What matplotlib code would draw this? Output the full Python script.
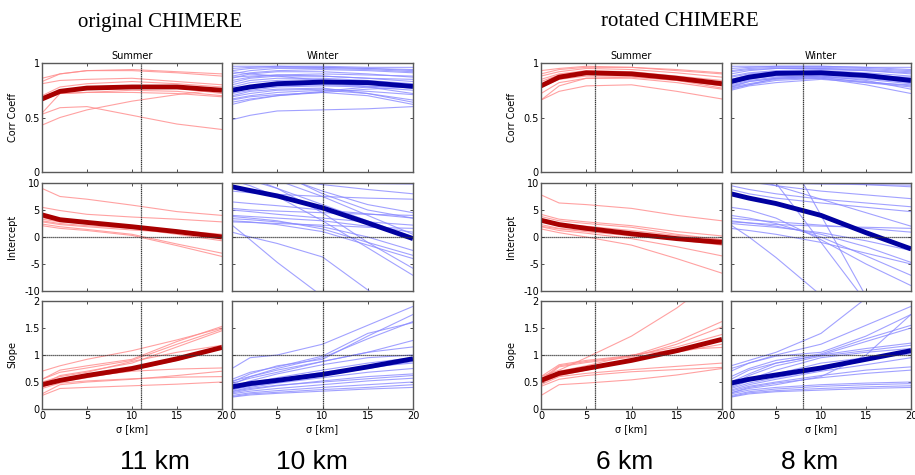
import matplotlib
matplotlib.use("Agg")
import matplotlib.pyplot as plt

# sigma [km] sample points
sigma = [0, 2, 5, 10, 15, 20]

# ---------------- original CHIMERE ----------------
orig_sum_corr_mean = [0.67, 0.74, 0.77, 0.78, 0.78, 0.75]
orig_sum_corr = [
    [0.86, 0.90, 0.93, 0.94, 0.92, 0.90],
    [0.83, 0.90, 0.93, 0.93, 0.91, 0.88],
    [0.81, 0.84, 0.85, 0.86, 0.83, 0.80],
    [0.70, 0.78, 0.81, 0.83, 0.81, 0.78],
    [0.69, 0.74, 0.78, 0.79, 0.77, 0.72],
    [0.66, 0.72, 0.73, 0.73, 0.72, 0.69],
    [0.53, 0.59, 0.60, 0.52, 0.44, 0.39],
    [0.43, 0.50, 0.57, 0.65, 0.71, 0.76],
    [0.54, 0.72, 0.73, 0.75, 0.74, 0.70],
]
orig_sum_icpt_mean = [4.1, 3.2, 2.7, 1.9, 1.0, 0.0]
orig_sum_icpt = [
    [9.0, 7.5, 7.0, 5.9, 4.7, 4.0],
    [5.5, 4.9, 4.2, 3.7, 3.3, 2.8],
    [3.3, 2.8, 2.5, 2.0, 1.2, 0.5],
    [2.8, 2.3, 1.9, 1.3, 0.8, 0.3],
    [2.4, 1.9, 1.4, 0.5, -1.3, -3.0],
    [2.1, 1.6, 1.2, 0.3, -1.6, -3.6],
    [3.6, 3.0, 2.6, 2.1, 1.1, 0.3],
    [3.0, 2.5, 2.1, 1.6, 0.5, -0.7],
]
orig_sum_slope_mean = [0.45, 0.53, 0.62, 0.75, 0.93, 1.14]
orig_sum_slope = [
    [0.70, 0.80, 0.92, 1.08, 1.28, 1.50],
    [0.55, 0.72, 0.80, 0.92, 1.25, 1.53],
    [0.55, 0.68, 0.76, 0.90, 1.20, 1.48],
    [0.45, 0.62, 0.70, 0.85, 1.15, 1.45],
    [0.50, 0.60, 0.68, 0.88, 1.05, 1.18],
    [0.40, 0.55, 0.60, 0.70, 0.74, 0.76],
    [0.38, 0.48, 0.52, 0.56, 0.59, 0.60],
    [0.28, 0.45, 0.50, 0.55, 0.62, 0.70],
    [0.25, 0.38, 0.40, 0.43, 0.46, 0.50],
    [0.42, 0.50, 0.58, 0.72, 0.90, 1.12],
]
orig_win_corr_mean = [0.75, 0.78, 0.81, 0.825, 0.82, 0.785]
orig_win_corr = [
    [0.97, 0.97, 0.97, 0.96, 0.95, 0.94],
    [0.95, 0.96, 0.97, 0.97, 0.96, 0.96],
    [0.93, 0.95, 0.96, 0.96, 0.95, 0.93],
    [0.90, 0.93, 0.95, 0.95, 0.94, 0.92],
    [0.88, 0.91, 0.93, 0.94, 0.93, 0.91],
    [0.86, 0.90, 0.92, 0.92, 0.90, 0.87],
    [0.84, 0.87, 0.89, 0.90, 0.89, 0.88],
    [0.82, 0.86, 0.88, 0.88, 0.86, 0.83],
    [0.80, 0.84, 0.86, 0.86, 0.84, 0.81],
    [0.78, 0.82, 0.84, 0.85, 0.83, 0.79],
    [0.76, 0.79, 0.80, 0.82, 0.82, 0.80],
    [0.74, 0.77, 0.79, 0.80, 0.79, 0.77],
    [0.72, 0.75, 0.78, 0.79, 0.78, 0.75],
    [0.70, 0.74, 0.76, 0.77, 0.72, 0.64],
    [0.69, 0.72, 0.75, 0.76, 0.74, 0.71],
    [0.67, 0.70, 0.73, 0.75, 0.72, 0.66],
    [0.66, 0.69, 0.71, 0.73, 0.70, 0.62],
    [0.64, 0.67, 0.70, 0.73, 0.76, 0.78],
    [0.62, 0.66, 0.70, 0.74, 0.78, 0.80],
    [0.48, 0.52, 0.56, 0.57, 0.58, 0.60],
    [0.87, 0.88, 0.89, 0.88, 0.86, 0.85],
    [0.92, 0.90, 0.88, 0.84, 0.78, 0.72],
]
orig_win_icpt_mean = [9.3, 8.6, 7.6, 5.4, 2.6, -0.3]
orig_win_icpt = [
    [18, 15, 12, 8, 5, 3.5],
    [15, 13.5, 11.5, 8.5, 6, 4.5],
    [12, 11.5, 10.8, 9.7, 8.8, 8.0],
    [11, 10.5, 10.2, 10, 9.9, 9.8],
    [13, 12, 10.5, 7.5, 4, 0.5],
    [11.5, 10.5, 9, 6, 3, 0],
    [8.5, 8.2, 7.9, 7.5, 7.2, 7.0],
    [5.3, 5.0, 4.8, 4.5, 4.2, 4.0],
    [5.0, 4.7, 4.2, 3.5, 2.8, 2.2],
    [4.0, 3.8, 3.5, 3.0, 2.0, 0.9],
    [3.4, 3.2, 2.8, 1.9, 0.0, -2.5],
    [2.8, 2.7, 2.5, 2.2, 1.8, 1.6],
    [2.2, -0.5, -4.7, -11, -18, -25],
    [0.9, 0.0, -1.2, -3.7, -9.8, -16],
    [12, 11, 9, 4.5, -1, -5.8],
    [10.5, 9.5, 7.5, 3, -2, -7.1],
    [3.0, 2.8, 2.3, 1.0, -1.5, -4.0],
    [3.8, 3.5, 3.0, 1.5, -1.0, -3.4],
    [6.5, 6.2, 5.8, 5.0, 4.3, 3.5],
]
orig_win_slope_mean = [0.41, 0.47, 0.53, 0.64, 0.78, 0.93]
orig_win_slope = [
    [0.75, 0.95, 1.00, 1.20, 1.55, 1.90],
    [0.50, 0.65, 0.80, 0.92, 1.35, 1.75],
    [0.55, 0.68, 0.78, 0.98, 1.40, 1.60],
    [0.45, 0.60, 0.75, 0.95, 1.30, 1.62],
    [0.52, 0.60, 0.72, 0.88, 1.05, 1.27],
    [0.48, 0.57, 0.68, 0.88, 1.05, 1.15],
    [0.40, 0.52, 0.65, 0.82, 0.95, 1.00],
    [0.38, 0.48, 0.58, 0.72, 0.85, 0.95],
    [0.35, 0.45, 0.55, 0.68, 0.78, 0.85],
    [0.33, 0.40, 0.48, 0.58, 0.68, 0.75],
    [0.30, 0.36, 0.43, 0.52, 0.60, 0.65],
    [0.28, 0.33, 0.38, 0.45, 0.52, 0.57],
    [0.25, 0.30, 0.34, 0.40, 0.45, 0.50],
    [0.23, 0.28, 0.31, 0.36, 0.40, 0.45],
    [0.22, 0.26, 0.29, 0.33, 0.37, 0.40],
    [0.32, 0.38, 0.44, 0.50, 0.56, 0.62],
    [0.36, 0.42, 0.50, 0.62, 0.75, 0.88],
]

# ---------------- rotated CHIMERE ----------------
rot_sum_corr_mean = [0.79, 0.87, 0.91, 0.90, 0.86, 0.81]
rot_sum_corr = [
    [0.93, 0.95, 0.97, 0.96, 0.93, 0.90],
    [0.90, 0.94, 0.96, 0.96, 0.94, 0.91],
    [0.88, 0.92, 0.95, 0.94, 0.91, 0.87],
    [0.85, 0.90, 0.93, 0.92, 0.88, 0.84],
    [0.83, 0.89, 0.92, 0.91, 0.87, 0.82],
    [0.80, 0.87, 0.90, 0.89, 0.85, 0.79],
    [0.78, 0.85, 0.88, 0.88, 0.84, 0.77],
    [0.72, 0.82, 0.86, 0.86, 0.82, 0.76],
    [0.66, 0.74, 0.79, 0.80, 0.74, 0.67],
    [0.66, 0.79, 0.86, 0.87, 0.84, 0.79],
]
rot_sum_icpt_mean = [3.1, 2.3, 1.6, 0.6, -0.3, -1.0]
rot_sum_icpt = [
    [7.8, 6.3, 6.0, 5.3, 4.0, 3.0],
    [4.2, 3.3, 2.8, 2.1, 1.0, 0.2],
    [3.8, 3.0, 2.5, 1.8, 0.5, -0.5],
    [2.8, 2.3, 2.0, 1.2, 0.3, -0.5],
    [2.3, 1.6, 1.2, 0.5, -0.5, -1.5],
    [1.9, 1.2, 0.7, -0.3, -1.8, -3.5],
    [1.5, 0.8, 0.0, -1.5, -4.0, -6.7],
    [2.0, 1.5, 1.0, 0.2, -0.3, -0.6],
]
rot_sum_slope_mean = [0.53, 0.66, 0.75, 0.90, 1.08, 1.29]
rot_sum_slope = [
    [0.60, 0.72, 0.95, 1.35, 1.87, 2.50],
    [0.55, 0.80, 0.88, 0.98, 1.25, 1.62],
    [0.52, 0.78, 0.86, 0.96, 1.20, 1.52],
    [0.60, 0.82, 0.90, 0.99, 1.15, 1.38],
    [0.50, 0.70, 0.80, 1.00, 1.10, 1.14],
    [0.48, 0.62, 0.72, 0.90, 1.05, 1.20],
    [0.45, 0.60, 0.66, 0.73, 0.79, 0.85],
    [0.42, 0.55, 0.62, 0.69, 0.73, 0.77],
    [0.25, 0.45, 0.48, 0.54, 0.63, 0.75],
]
rot_win_corr_mean = [0.83, 0.87, 0.905, 0.91, 0.885, 0.84]
rot_win_corr = [
    [0.97, 0.97, 0.97, 0.97, 0.96, 0.96],
    [0.95, 0.96, 0.97, 0.97, 0.96, 0.94],
    [0.93, 0.95, 0.96, 0.96, 0.95, 0.93],
    [0.92, 0.94, 0.95, 0.95, 0.94, 0.92],
    [0.90, 0.93, 0.95, 0.95, 0.93, 0.90],
    [0.88, 0.91, 0.93, 0.94, 0.93, 0.91],
    [0.87, 0.90, 0.92, 0.93, 0.91, 0.88],
    [0.85, 0.89, 0.91, 0.92, 0.90, 0.86],
    [0.83, 0.87, 0.90, 0.91, 0.89, 0.85],
    [0.82, 0.85, 0.89, 0.90, 0.88, 0.84],
    [0.80, 0.84, 0.87, 0.89, 0.87, 0.83],
    [0.79, 0.83, 0.86, 0.88, 0.86, 0.82],
    [0.78, 0.81, 0.85, 0.87, 0.85, 0.81],
    [0.77, 0.80, 0.84, 0.86, 0.83, 0.79],
    [0.76, 0.80, 0.86, 0.88, 0.84, 0.76],
    [0.75, 0.79, 0.82, 0.85, 0.82, 0.78],
    [0.78, 0.83, 0.86, 0.86, 0.80, 0.72],
    [0.81, 0.86, 0.88, 0.87, 0.82, 0.80],
    [0.84, 0.88, 0.90, 0.90, 0.88, 0.87],
]
rot_win_icpt_mean = [8.0, 7.2, 6.2, 4.0, 0.8, -2.2]
rot_win_icpt = [
    [12, 11.5, 11, 10.3, 9.7, 9.3],
    [11, 10.2, 9.5, 8.5, 7.8, 7.1],
    [9.5, 8.8, 8.0, 7.0, 6.3, 5.6],
    [8.8, 8.0, 7.2, 6.3, 5.5, 4.7],
    [21, 16.5, 10, -1, -12, -23],
    [2.2, 0.0, -3.8, -10.8, -18, -25],
    [34, 28, 19, 4, -11, -26],
    [3.0, 2.6, 2.0, 0.5, -1.8, -4.7],
    [2.5, 2.2, 1.8, 0.8, -0.7, -2.5],
    [3.5, 3.2, 2.8, 2.2, 1.6, 0.9],
    [4.0, 3.5, 2.5, 0.0, -3.5, -7.1],
    [5.5, 5.0, 3.5, -0.5, -5, -9.0],
    [2.8, 2.6, 2.3, 2.0, 1.8, 1.6],
    [10.5, 10.2, 10.0, 9.8, 9.7, 9.6],
    [12, 11, 9.5, 7.0, 4.5, 2.0],
    [1.6, 1.2, 0.5, -1.0, -3.0, -5.0],
]
rot_win_slope_mean = [0.48, 0.55, 0.63, 0.76, 0.92, 1.08]
rot_win_slope = [
    [0.80, 0.90, 1.05, 1.40, 2.05, 2.70],
    [0.75, 0.85, 1.00, 1.20, 1.55, 1.90],
    [0.70, 0.85, 0.98, 1.05, 1.35, 1.75],
    [0.60, 0.75, 0.90, 1.02, 1.30, 1.55],
    [0.55, 0.72, 0.85, 1.00, 1.25, 1.50],
    [0.50, 0.65, 0.85, 1.00, 1.12, 1.22],
    [0.45, 0.62, 0.80, 0.98, 1.08, 1.18],
    [0.42, 0.55, 0.72, 0.95, 1.05, 1.12],
    [0.40, 0.52, 0.65, 0.85, 0.95, 1.02],
    [0.35, 0.45, 0.55, 0.70, 0.82, 0.95],
    [0.33, 0.42, 0.50, 0.62, 0.72, 0.78],
    [0.30, 0.40, 0.48, 0.58, 0.66, 0.72],
    [0.28, 0.35, 0.40, 0.45, 0.48, 0.50],
    [0.25, 0.32, 0.37, 0.42, 0.45, 0.47],
    [0.23, 0.30, 0.34, 0.38, 0.41, 0.43],
    [0.22, 0.28, 0.32, 0.35, 0.38, 0.40],
    [0.30, 0.38, 0.45, 0.60, 1.00, 1.75],
    [0.38, 0.48, 0.58, 0.72, 0.90, 1.10],
]

optimal_sigma = [11, 10, 6, 8]  # summer/winter, original then rotated
group_titles = ["original CHIMERE", "rotated CHIMERE"]
season_titles = ["Summer", "Winter"]
row_labels = ["Corr Coeff", "Intercept", "Slope"]
bottom_labels = ["11 km", "10 km", "6 km", "8 km"]

panels = [
    [orig_sum_corr, orig_sum_icpt, orig_sum_slope],
    [orig_win_corr, orig_win_icpt, orig_win_slope],
    [rot_sum_corr, rot_sum_icpt, rot_sum_slope],
    [rot_win_corr, rot_win_icpt, rot_win_slope],
]
means = [
    [orig_sum_corr_mean, orig_sum_icpt_mean, orig_sum_slope_mean],
    [orig_win_corr_mean, orig_win_icpt_mean, orig_win_slope_mean],
    [rot_sum_corr_mean, rot_sum_icpt_mean, rot_sum_slope_mean],
    [rot_win_corr_mean, rot_win_icpt_mean, rot_win_slope_mean],
]

W, H = 915, 475
fig = plt.figure(figsize=(W / 100, H / 100), dpi=100)

col_x = [(42, 222), (232, 413), (541, 722), (731, 911)]
row_y = [(63, 172), (183, 291), (301, 409)]
ylims = [(0, 1), (-10, 10), (0, 2)]
yticks = [[0, 0.5, 1], [-10, -5, 0, 5, 10], [0, 0.5, 1, 1.5, 2]]
yticklabels = [["0", "0.5", "1"], ["-10", "-5", "0", "5", "10"],
               ["0", "0.5", "1", "1.5", "2"]]
thin_col = ["#ff8a8a", "#8a8aff"]
mean_col = ["#a80000", "#0000a0"]

for c, (x0, x1) in enumerate(col_x):
    season = c % 2
    for r, (y0, y1) in enumerate(row_y):
        ax = fig.add_axes([x0 / W, 1 - y1 / H, (x1 - x0) / W, (y1 - y0) / H])
        for line in panels[c][r]:
            ax.plot(sigma, line, color=thin_col[season], lw=0.8, alpha=0.8)
        ax.plot(sigma, means[c][r], color=mean_col[season], lw=3.5,
                solid_capstyle="butt")
        ax.axvline(optimal_sigma[c], color="0.2", lw=0.9, ls=(0, (1, 0.5)))
        if r == 1:
            ax.axhline(0, color="0.2", lw=0.9, ls=(0, (1, 0.6)))
        if r == 2:
            ax.axhline(1, color="0.2", lw=0.9, ls=(0, (1, 0.6)))
        ax.set_xlim(0, 20)
        ax.set_ylim(*ylims[r])
        ax.set_xticks([0, 5, 10, 15, 20])
        ax.set_yticks(yticks[r])
        ax.tick_params(direction="in", length=2.5, width=0.7, top=True,
                       right=True, labelsize=7, pad=1.5, color="0.3")
        for sp in ax.spines.values():
            sp.set_color("0.35")
            sp.set_linewidth(1.0)
        if season == 0:
            ax.set_yticklabels(yticklabels[r])
            ax.set_ylabel(row_labels[r], fontsize=7, labelpad=5)
        else:
            ax.set_yticklabels([])
        if r == 2:
            ax.set_xlabel("\u03c3 [km]", fontsize=7, labelpad=2)
        else:
            ax.set_xticklabels([])
        if r == 0:
            ax.set_title(season_titles[season], fontsize=7, pad=3)

for g, xc in enumerate([160, 680]):
    fig.text(xc / W, 1 - 22 / H, group_titles[g], ha="center", va="center",
             fontsize=15, family="Liberation Serif")

for lbl, xc in zip(bottom_labels, [155, 312, 625, 810]):
    fig.text(xc / W, 1 - 462 / H, lbl, ha="center", va="center",
             fontsize=19, family="Liberation Sans")

fig.savefig("out.png", dpi=100)
